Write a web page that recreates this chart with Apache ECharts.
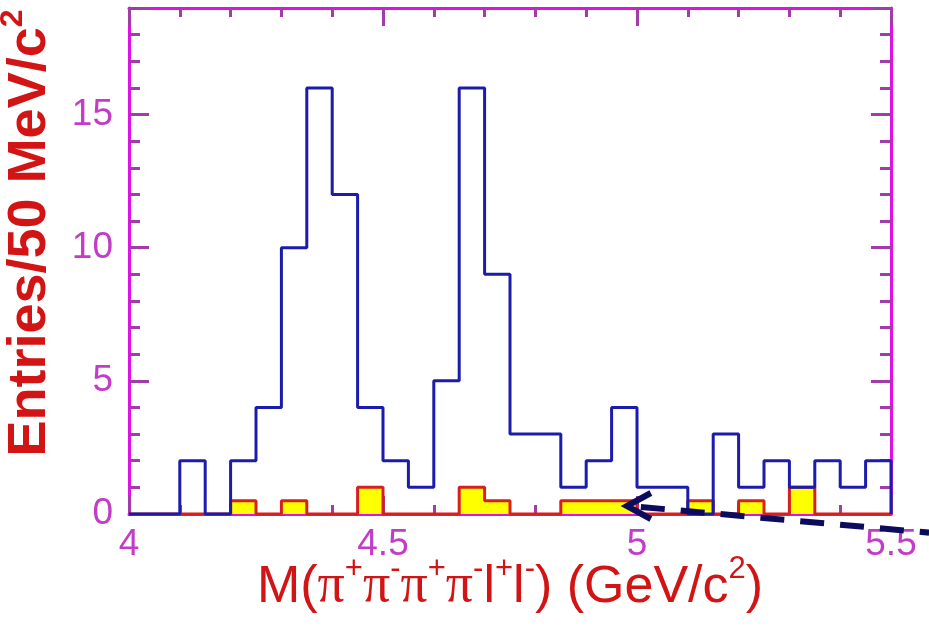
<!DOCTYPE html>
<html>
<head>
<meta charset="utf-8">
<script src="https://cdn.jsdelivr.net/npm/echarts@6/dist/echarts.min.js"></script>
<style>
  html, body { margin: 0; padding: 0; background: #fff; }
  #chart { width: 929px; height: 627px; }
</style>
</head>
<body>
<div id="chart"></div>
<script>
// lower edges of the 50 MeV/c2 bins
const binEdges = [4.00, 4.05, 4.10, 4.15, 4.20, 4.25, 4.30, 4.35, 4.40, 4.45,
                  4.50, 4.55, 4.60, 4.65, 4.70, 4.75, 4.80, 4.85, 4.90, 4.95,
                  5.00, 5.05, 5.10, 5.15, 5.20, 5.25, 5.30, 5.35, 5.40, 5.45]
const upperEdge = 5.5
// blue histogram (data)
const dataCounts = [0, 0, 2, 0, 2, 4, 10, 16, 12, 4,
                    2, 1, 5, 16, 9, 3, 3, 1, 2, 4,
                    1, 1, 0, 3, 1, 2, 1, 2, 1, 2]
// yellow histogram
const bkgCounts = [0, 0, 0, 0, 0.5, 0, 0.5, 0, 0, 1,
                   0, 0, 0, 1, 0.5, 0, 0, 0.5, 0.5, 0.5,
                   0, 0, 0.5, 0, 0.5, 0, 1, 0, 0, 0]
const xTicks = [4, 4.5, 5, 5.5]
const yTicks = [0, 5, 10, 15]
// dashed arrow annotation (data coords)
const arrowTip = [4.98, 0.3]
const arrowTail = [5.575, -0.7]

const magenta = '#e010e8'
const tickCol = '#a23ca8'
const labelCol = '#c23cc8'
const titleCol = '#d21414'
const font = '"Liberation Sans", Arial, sans-serif'

// histogram as step line: point at each lower edge, closed at upper edge
function stepData(counts) {
  const pts = binEdges.map((e, i) => [e, counts[i]])
  pts.push([upperEdge, counts[counts.length - 1]])
  pts.push([upperEdge, 0])
  return pts
}

const myChart = echarts.init(document.getElementById('chart'))

const xCommon = {
  type: 'value',
  min: xTicks[0],
  max: xTicks[xTicks.length - 1],
  interval: 0.5,
  splitLine: { show: false },
  axisLine: { show: true, onZero: false, lineStyle: { color: magenta, width: 3 } },
  axisTick: { show: true, inside: true, length: 18, lineStyle: { color: tickCol, width: 3 } },
  minorTick: { show: true, splitNumber: 5, length: 9, lineStyle: { color: tickCol, width: 3 } }
}
const yCommon = {
  type: 'value',
  min: 0,
  max: 19,
  interval: 5,
  splitLine: { show: false },
  axisLine: { show: true, onZero: false, lineStyle: { color: magenta, width: 3 } },
  axisTick: { show: true, inside: true, length: 20, lineStyle: { color: tickCol, width: 3 } },
  minorTick: { show: true, splitNumber: 5, length: 11, lineStyle: { color: tickCol, width: 3 } }
}

const option = {
  animation: false,
  backgroundColor: '#fff',
  grid: { left: 129, right: 38, top: 8, bottom: 113, containLabel: false, outerBoundsMode: 'none' },
  xAxis: [
    Object.assign({}, xCommon, {
      position: 'bottom',
      axisLabel: {
        color: labelCol, fontSize: 37, fontFamily: font, margin: 12,
        formatter: v => String(v)
      },
      name: '{n|M(}{p|π}{s|+}{p|π}{s|-}{p|π}{s|+}{p|π}{s|-}{n|l}{s|+}{n|l}{s|-}{n|) (GeV/c}{s|2}{n|)}',
      nameLocation: 'middle',
      nameGap: 40,
      nameMoveOverlap: false,
      nameTextStyle: {
        color: titleCol,
        fontFamily: font,
        rich: {
          n: { color: titleCol, fontFamily: font, fontSize: 52, lineHeight: 60, verticalAlign: 'bottom' },
          p: { color: titleCol, fontFamily: '"Liberation Serif", serif', fontSize: 54, lineHeight: 60, verticalAlign: 'bottom' },
          s: { color: titleCol, fontFamily: font, fontSize: 31, lineHeight: 36, verticalAlign: 'top' }
        }
      }
    }),
    Object.assign({}, xCommon, { position: 'top', axisLabel: { show: false } })
  ],
  yAxis: [
    Object.assign({}, yCommon, {
      position: 'left',
      axisLabel: {
        color: labelCol, fontSize: 37, fontFamily: font, margin: 16,
        showMaxLabel: false,
        formatter: v => (yTicks.indexOf(v) >= 0 ? String(v) : '')
      },
      name: '{n|Entries/50 MeV/c}{s|2}',
      nameLocation: 'middle',
      nameRotate: 90,
      nameGap: 72,
      nameTextStyle: {
        color: titleCol,
        fontFamily: font,
        padding: [0, 0, 0, 56],
        rich: {
          n: { color: titleCol, fontFamily: font, fontSize: 54, fontWeight: 'bold', lineHeight: 60, verticalAlign: 'bottom' },
          s: { color: titleCol, fontFamily: font, fontSize: 32, fontWeight: 'bold', lineHeight: 36, verticalAlign: 'top' }
        }
      }
    }),
    Object.assign({}, yCommon, { position: 'right', axisLabel: { show: false } })
  ],
  series: [
    {
      name: 'background',
      type: 'line',
      step: 'end',
      symbol: 'none',
      clip: false,
      z: 2,
      lineStyle: { color: '#d81e1e', width: 3 },
      areaStyle: { color: '#ffff00', opacity: 1 },
      data: stepData(bkgCounts)
    },
    {
      name: 'data',
      type: 'line',
      step: 'end',
      symbol: 'none',
      clip: false,
      z: 3,
      lineStyle: { color: '#1c1cac', width: 3 },
      data: stepData(dataCounts)
    }
  ]
}
myChart.setOption(option)

// dashed arrow pointing at the signal region
const tip = myChart.convertToPixel({ gridIndex: 0 }, arrowTip)
const tail = myChart.convertToPixel({ gridIndex: 0 }, arrowTail)
myChart.setOption({
  graphic: [
    {
      type: 'line',
      z: 10,
      shape: { x1: tip[0] + 14, y1: tip[1] + 1, x2: tail[0], y2: tail[1] },
      style: { stroke: '#0c0c5e', lineWidth: 6, lineDash: [24, 16] }
    },
    {
      type: 'polyline',
      z: 10,
      shape: { points: [[tip[0] + 24, tip[1] - 13], tip, [tip[0] + 24, tip[1] + 13]] },
      style: { stroke: '#0c0c5e', lineWidth: 6, fill: null, lineJoin: 'miter' }
    }
  ]
})

window.addEventListener('resize', function () {
  myChart.resize()
})
</script>
</body>
</html>
